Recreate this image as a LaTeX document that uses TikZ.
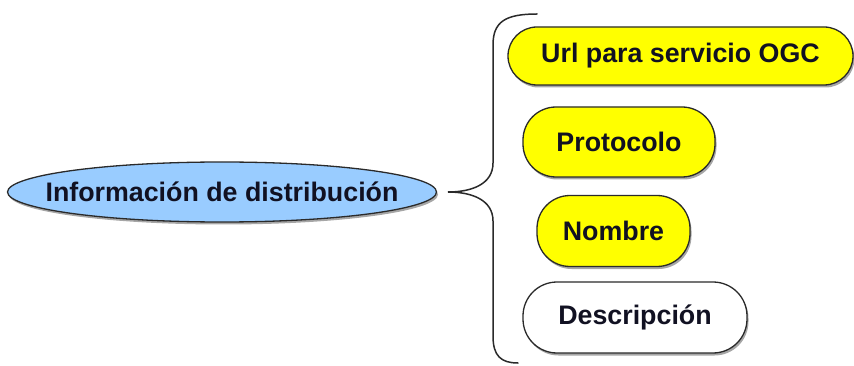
\documentclass[tikz,border=0pt]{standalone}
\usepackage{fontspec}
\setmainfont{Liberation Sans}
\usetikzlibrary{shapes.geometric,shadows}
\definecolor{lblue}{HTML}{99CCFF}
\definecolor{yel}{HTML}{FFFF00}
\definecolor{edge}{HTML}{2A2A2A}
\definecolor{txt}{HTML}{111122}
\tikzset{
  base/.style={draw=edge, line width=1.3pt, text=txt, inner sep=0pt,
    font=\fontsize{26.8}{30}\selectfont\bfseries,
    drop shadow={shadow xshift=1.5pt, shadow yshift=-2.5pt, fill=black, opacity=0.35}},
  mainbox/.style={base, ellipse, fill=lblue},
  itembox/.style={base, rectangle, rounded corners=#1},
  bracestyle/.style={draw=edge, line width=1.5pt, line cap=round}
}
\begin{document}
\begin{tikzpicture}[x=1pt,y=-1pt]
\useasboundingbox (0,0) rectangle (854,366);
\node[mainbox, minimum width=429pt, minimum height=60pt] (info) at (222,192) {\makebox[0pt]{Información de distribución}};
\node[itembox=29pt, fill=yel, minimum width=345pt, minimum height=58pt] (url) at (680.5,56) {Url para servicio OGC};
\node[itembox=33pt, fill=yel, minimum width=192pt, minimum height=70pt] (proto) at (619,142) {Protocolo};
\node[itembox=33pt, fill=yel, minimum width=153pt, minimum height=71pt] (nombre) at (613.5,231) {Nombre};
\node[itembox=34pt, fill=white, minimum width=224pt, minimum height=71pt] (desc) at (635,317.5) {Descripción};
\coordinate (btop) at (537,14);
\coordinate (btip) at (448,192);
\coordinate (bbot) at (518,363);
\draw[bracestyle] (btop) .. controls (505,14) and (493,22) .. (493,45) -- (493,163)
  .. controls (493,184) and (472,192) .. (btip)
  .. controls (472,192) and (493,200) .. (493,221) -- (493,336)
  .. controls (493,356) and (501,363) .. (bbot);
\end{tikzpicture}
\end{document}
